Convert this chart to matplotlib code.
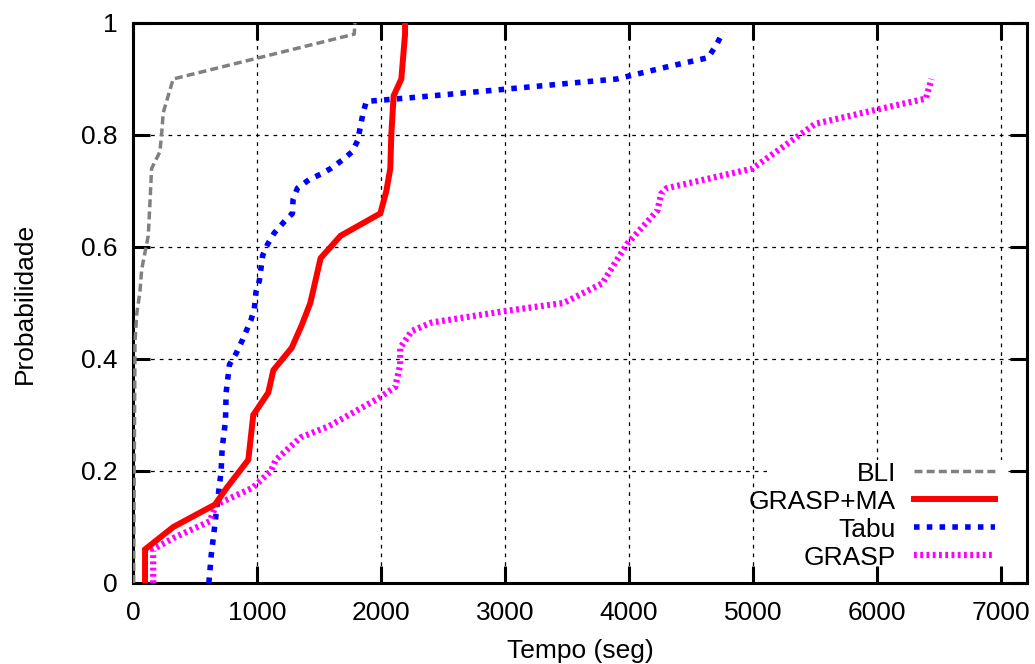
import matplotlib
matplotlib.use("Agg")
import matplotlib.pyplot as plt
from matplotlib.patches import Rectangle

# curves (tempo em segundos, probabilidade acumulada)
bli_x = [5, 10, 16, 30, 56, 70, 123, 137, 150, 217, 230, 244, 324, 1784, 1790]
bli_y = [0.0, 0.2, 0.43, 0.48, 0.52, 0.56, 0.62, 0.68, 0.74, 0.77, 0.80, 0.84, 0.90, 0.98, 1.0]

ma_x = [97, 97, 325, 661, 756, 930, 970, 1091, 1132, 1280, 1360, 1430, 1513, 1674,
        1995, 2043, 2075, 2083, 2102, 2164, 2194, 2194]
ma_y = [0.0, 0.06, 0.10, 0.14, 0.17, 0.22, 0.30, 0.34, 0.38, 0.42, 0.46, 0.50, 0.58, 0.62,
        0.66, 0.70, 0.74, 0.80, 0.87, 0.90, 0.98, 1.0]

tabu_x = [612, 631, 658, 684, 711, 719, 746, 751, 778, 832, 885, 952, 979, 992, 1019,
          1046, 1086, 1139, 1219, 1286, 1291, 1326, 1419, 1513, 1594, 1687, 1767, 1812,
          1834, 1856, 1882, 1995, 2316, 2966, 3600, 3904, 4012, 4333, 4638, 4708, 4760]
tabu_y = [0.0, 0.05, 0.10, 0.15, 0.20, 0.24, 0.29, 0.34, 0.39, 0.41, 0.435, 0.47, 0.49,
          0.52, 0.54, 0.585, 0.605, 0.625, 0.645, 0.66, 0.685, 0.705, 0.72, 0.73, 0.74,
          0.755, 0.77, 0.79, 0.815, 0.84, 0.86, 0.862, 0.868, 0.881, 0.894, 0.90, 0.906,
          0.923, 0.938, 0.962, 0.985]

grasp_x = [163, 163, 323, 618, 671, 965, 1112, 1152, 1353, 1580, 1981, 2115, 2155, 2155,
           2248, 2408, 2982, 3473, 3784, 3983, 4229, 4260, 4305, 4996, 5503, 5994, 6394, 6440]
grasp_y = [0.0, 0.06, 0.08, 0.11, 0.14, 0.17, 0.20, 0.22, 0.26, 0.28, 0.33, 0.35, 0.39,
           0.42, 0.45, 0.465, 0.485, 0.50, 0.535, 0.605, 0.665, 0.695, 0.705, 0.74, 0.82,
           0.845, 0.865, 0.90]

x_ticks = [0, 1000, 2000, 3000, 4000, 5000, 6000, 7000]
y_ticks = [0, 0.2, 0.4, 0.6, 0.8, 1.0]
y_tick_labels = ["0", "0.2", "0.4", "0.6", "0.8", "1"]

plt.rcParams["font.family"] = ["Liberation Sans", "DejaVu Sans"]
fsize = 19

fig = plt.figure(figsize=(10.35, 6.64), dpi=100)
ax = fig.add_axes([0.1285, 0.122, 0.8638, 0.8434])

ax.plot(bli_x, bli_y, color="#808080", lw=2.5, dashes=(2.3, 1.2), label="BLI", zorder=3)
ax.plot(ma_x, ma_y, color="red", lw=4.3, solid_joinstyle="miter", label="GRASP+MA", zorder=4)
ax.plot(tabu_x, tabu_y, color="blue", lw=4.0, dashes=(1.0, 1.3), label="Tabu", zorder=3)
ax.plot(grasp_x, grasp_y, color="magenta", lw=4.5, dashes=(0.45, 0.55), label="GRASP", zorder=3)

ax.set_xlim(0, 7210)
ax.set_ylim(0, 1)
ax.set_xticks(x_ticks)
ax.set_xticklabels([str(t) for t in x_ticks])
ax.set_yticks(y_ticks)
ax.set_yticklabels(y_tick_labels)

ax.grid(True, color="black", lw=0.9, linestyle=(0, (3, 4)))
ax.set_axisbelow(True)

for s in ax.spines.values():
    s.set_linewidth(2.2)
ax.tick_params(direction="in", length=12, width=2.2, labelsize=fsize, top=True, right=True)
ax.tick_params(axis="x", pad=13)
ax.tick_params(axis="y", pad=11)

ax.set_xlabel("Tempo (seg)", fontsize=fsize, labelpad=10)
ax.set_ylabel("Probabilidade", fontsize=fsize, labelpad=32)

# gnuplot-like key: white patch hiding the grid behind it (narrower than the text)
ax.add_patch(Rectangle((0.709, 0.03), 0.265, 0.19, transform=ax.transAxes,
                       facecolor="white", edgecolor="none", zorder=0.7))

leg = ax.legend(loc="lower right", bbox_to_anchor=(0.964, 0.024), fontsize=fsize,
                markerfirst=False, frameon=False, handlelength=3.07,
                handletextpad=0.68, labelspacing=0.15, borderpad=0, borderaxespad=0)
leg.set_zorder(5)

fig.savefig("out.png", dpi=100)
